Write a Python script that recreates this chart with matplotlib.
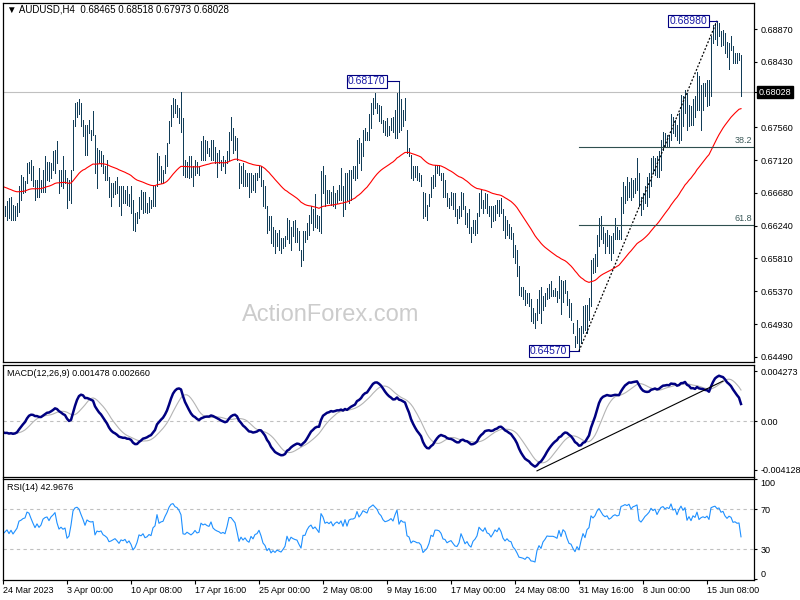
import numpy as np
import pandas as pd
import matplotlib
matplotlib.use("Agg")
import matplotlib.pyplot as plt
import matplotlib.transforms as mtransforms

# AUDUSD H4 bars, prices in pips (x 1e-4)
high_pips = [
    6648, 6650, 6657, 6661, 6663, 6652, 6650, 6655, 6677, 6692,
    6690, 6684, 6708, 6710, 6712, 6704, 6686, 6686, 6701, 6686,
    6699, 6717, 6710, 6710, 6708, 6724, 6726, 6737, 6699, 6699,
    6717, 6699, 6688, 6686, 6699, 6766, 6788, 6790, 6793, 6788,
    6766, 6759, 6759, 6766, 6752, 6777, 6746, 6728, 6726, 6724,
    6719, 6704, 6712, 6690, 6681, 6681, 6684, 6690, 6677, 6677,
    6677, 6672, 6677, 6666, 6677, 6659, 6641, 6643, 6663, 6672,
    6670, 6670, 6655, 6663, 6659, 6677, 6677, 6721, 6717, 6704,
    6699, 6719, 6735, 6764, 6786, 6795, 6793, 6786, 6781, 6803,
    6768, 6712, 6710, 6717, 6717, 6704, 6712, 6710, 6704, 6737,
    6744, 6739, 6737, 6728, 6739, 6739, 6730, 6721, 6726, 6712,
    6717, 6712, 6724, 6750, 6770, 6755, 6744, 6741, 6708, 6704,
    6708, 6699, 6695, 6695, 6695, 6692, 6695, 6695, 6704, 6704,
    6686, 6677, 6650, 6637, 6637, 6623, 6619, 6615, 6619, 6608,
    6608, 6610, 6635, 6632, 6623, 6630, 6632, 6621, 6617, 6592,
    6617, 6617, 6628, 6639, 6650, 6646, 6666, 6639, 6637, 6697,
    6704, 6692, 6672, 6672, 6670, 6677, 6668, 6672, 6679, 6701,
    6677, 6695, 6695, 6699, 6699, 6704, 6704, 6739, 6741, 6735,
    6752, 6755, 6750, 6773, 6788, 6795, 6801, 6788, 6786, 6784,
    6766, 6764, 6768, 6757, 6768, 6770, 6779, 6801, 6817, 6793,
    6779, 6795, 6752, 6728, 6719, 6704, 6704, 6704, 6695, 6692,
    6670, 6668, 6652, 6666, 6690, 6692, 6706, 6706, 6706, 6695,
    6695, 6686, 6668, 6661, 6670, 6668, 6668, 6646, 6650, 6670,
    6668, 6650, 6641, 6646, 6623, 6632, 6632, 6641, 6668, 6672,
    6659, 6668, 6666, 6650, 6650, 6650, 6652, 6659, 6659, 6661,
    6646, 6637, 6632, 6626, 6623, 6614, 6599, 6592, 6570, 6543,
    6543, 6539, 6534, 6534, 6526, 6514, 6508, 6526, 6539, 6543,
    6530, 6534, 6541, 6546, 6550, 6539, 6541, 6537, 6557, 6552,
    6550, 6552, 6537, 6526, 6521, 6494, 6477, 6499, 6488, 6490,
    6517, 6519, 6519, 6528, 6579, 6581, 6586, 6612, 6635, 6637,
    6623, 6614, 6619, 6612, 6610, 6614, 6635, 6623, 6619, 6663,
    6683, 6677, 6690, 6683, 6688, 6686, 6688, 6715, 6695, 6663,
    6668, 6677, 6690, 6695, 6715, 6717, 6715, 6717, 6724, 6739,
    6750, 6748, 6746, 6746, 6773, 6770, 6766, 6759, 6775, 6799,
    6797, 6806, 6801, 6786, 6784, 6793, 6797, 6830, 6824, 6812,
    6815, 6815, 6819, 6819, 6877, 6893, 6895, 6898, 6895, 6884,
    6886, 6881, 6870, 6868, 6877, 6864, 6855, 6855, 6855, 6852,
]
low_pips = [
    6630, 6637, 6632, 6635, 6632, 6632, 6632, 6637, 6643, 6659,
    6668, 6670, 6681, 6695, 6686, 6677, 6659, 6663, 6663, 6670,
    6670, 6670, 6686, 6684, 6688, 6699, 6695, 6708, 6668, 6677,
    6675, 6681, 6648, 6659, 6655, 6699, 6757, 6770, 6773, 6757,
    6744, 6719, 6719, 6748, 6739, 6746, 6695, 6675, 6708, 6704,
    6695, 6686, 6686, 6663, 6650, 6663, 6666, 6668, 6650, 6639,
    6655, 6655, 6652, 6650, 6641, 6619, 6617, 6628, 6635, 6646,
    6641, 6643, 6641, 6643, 6648, 6650, 6650, 6677, 6686, 6681,
    6681, 6695, 6704, 6735, 6757, 6770, 6775, 6770, 6761, 6750,
    6692, 6690, 6690, 6688, 6690, 6677, 6692, 6695, 6692, 6712,
    6712, 6712, 6721, 6717, 6712, 6712, 6708, 6690, 6708, 6699,
    6704, 6695, 6708, 6712, 6739, 6721, 6726, 6712, 6675, 6681,
    6677, 6677, 6677, 6663, 6670, 6672, 6670, 6686, 6690, 6677,
    6650, 6648, 6615, 6619, 6601, 6597, 6588, 6597, 6592, 6588,
    6595, 6597, 6606, 6601, 6592, 6610, 6603, 6603, 6592, 6570,
    6579, 6603, 6606, 6612, 6628, 6619, 6623, 6621, 6617, 6615,
    6668, 6650, 6655, 6655, 6652, 6650, 6648, 6655, 6659, 6659,
    6637, 6646, 6659, 6655, 6659, 6688, 6686, 6688, 6708, 6699,
    6717, 6739, 6739, 6739, 6755, 6773, 6781, 6775, 6764, 6761,
    6750, 6746, 6744, 6746, 6752, 6750, 6741, 6741, 6750, 6752,
    6757, 6766, 6721, 6717, 6688, 6686, 6690, 6686, 6684, 6677,
    6635, 6637, 6632, 6650, 6663, 6675, 6677, 6695, 6692, 6686,
    6663, 6663, 6650, 6648, 6652, 6646, 6637, 6628, 6635, 6637,
    6646, 6626, 6623, 6615, 6603, 6615, 6612, 6615, 6637, 6648,
    6641, 6648, 6641, 6637, 6623, 6630, 6632, 6641, 6637, 6641,
    6619, 6608, 6612, 6608, 6606, 6583, 6574, 6557, 6532, 6530,
    6526, 6519, 6521, 6517, 6497, 6494, 6488, 6499, 6508, 6494,
    6512, 6517, 6526, 6528, 6530, 6530, 6530, 6523, 6528, 6506,
    6523, 6534, 6519, 6503, 6499, 6481, 6463, 6468, 6457, 6468,
    6481, 6485, 6481, 6499, 6517, 6561, 6563, 6570, 6597, 6606,
    6601, 6588, 6597, 6588, 6579, 6588, 6606, 6606, 6606, 6606,
    6641, 6655, 6659, 6663, 6659, 6663, 6668, 6672, 6650, 6639,
    6646, 6655, 6650, 6663, 6677, 6695, 6692, 6690, 6690, 6699,
    6726, 6730, 6730, 6730, 6739, 6748, 6744, 6739, 6735, 6739,
    6757, 6775, 6752, 6757, 6759, 6759, 6770, 6779, 6779, 6752,
    6779, 6797, 6784, 6786, 6797, 6868, 6873, 6866, 6877, 6864,
    6866, 6855, 6850, 6833, 6859, 6841, 6841, 6841, 6846, 6797,
]
close_pips = [
    6640, 6645, 6650, 6640, 6648, 6638, 6645, 6652, 6672, 6675,
    6680, 6682, 6702, 6700, 6690, 6680, 6670, 6680, 6672, 6678,
    6695, 6700, 6702, 6695, 6706, 6712, 6720, 6700, 6685, 6690,
    6685, 6688, 6660, 6665, 6695, 6760, 6780, 6785, 6780, 6765,
    6750, 6730, 6755, 6750, 6748, 6750, 6700, 6715, 6712, 6715,
    6700, 6695, 6688, 6670, 6672, 6675, 6678, 6670, 6660, 6668,
    6665, 6668, 6656, 6660, 6648, 6625, 6630, 6640, 6658, 6655,
    6660, 6648, 6650, 6655, 6652, 6670, 6675, 6712, 6690, 6695,
    6697, 6715, 6732, 6760, 6780, 6785, 6778, 6776, 6770, 6760,
    6700, 6698, 6705, 6700, 6695, 6700, 6708, 6700, 6702, 6730,
    6725, 6728, 6724, 6722, 6735, 6720, 6715, 6712, 6710, 6706,
    6708, 6705, 6720, 6745, 6745, 6740, 6735, 6715, 6685, 6695,
    6685, 6690, 6680, 6675, 6688, 6680, 6690, 6692, 6700, 6685,
    6660, 6650, 6625, 6630, 6605, 6610, 6600, 6605, 6600, 6595,
    6600, 6606, 6628, 6610, 6620, 6615, 6612, 6610, 6595, 6580,
    6610, 6610, 6625, 6635, 6640, 6630, 6635, 6628, 6620, 6690,
    6680, 6660, 6665, 6660, 6668, 6655, 6665, 6670, 6665, 6675,
    6660, 6685, 6665, 6690, 6695, 6695, 6700, 6730, 6715, 6728,
    6748, 6745, 6742, 6770, 6780, 6790, 6785, 6780, 6770, 6765,
    6755, 6750, 6752, 6755, 6760, 6755, 6775, 6795, 6760, 6775,
    6770, 6770, 6725, 6720, 6692, 6698, 6695, 6690, 6690, 6680,
    6640, 6645, 6650, 6662, 6685, 6680, 6700, 6700, 6698, 6690,
    6670, 6668, 6655, 6658, 6660, 6650, 6640, 6638, 6645, 6665,
    6650, 6630, 6635, 6620, 6612, 6625, 6630, 6638, 6662, 6655,
    6650, 6660, 6645, 6642, 6632, 6640, 6650, 6645, 6655, 6645,
    6625, 6615, 6620, 6612, 6610, 6590, 6580, 6562, 6535, 6532,
    6528, 6520, 6524, 6518, 6498, 6496, 6490, 6510, 6520, 6508,
    6522, 6528, 6536, 6535, 6535, 6535, 6533, 6530, 6545, 6530,
    6545, 6540, 6522, 6505, 6502, 6485, 6470, 6480, 6465, 6485,
    6505, 6490, 6515, 6522, 6575, 6568, 6580, 6608, 6625, 6615,
    6605, 6600, 6605, 6595, 6600, 6610, 6615, 6612, 6615, 6660,
    6665, 6672, 6670, 6678, 6668, 6680, 6684, 6690, 6655, 6650,
    6660, 6672, 6680, 6690, 6710, 6705, 6712, 6700, 6718, 6735,
    6740, 6735, 6742, 6740, 6765, 6752, 6758, 6745, 6770, 6790,
    6780, 6795, 6760, 6778, 6765, 6790, 6785, 6815, 6790, 6800,
    6805, 6802, 6810, 6800, 6872, 6880, 6885, 6878, 6882, 6870,
    6875, 6862, 6855, 6865, 6862, 6848, 6850, 6846, 6847, 6803,
]

# starting states of the indicators as seen at the left edge
ma_seed = 0.6678
ema12_seed = 0.6664
ema26_seed = 0.6672
rsi_seed_gain = 0.0005
rsi_seed_loss = 0.0006

last_price = 0.68028
title_text = "\u25bc AUDUSD,H4  0.68465 0.68518 0.67973 0.68028"
macd_text = "MACD(12,26,9) 0.001478 0.002660"
rsi_text = "RSI(14) 42.9676"

price_ticks = [0.68870, 0.68430, 0.67560, 0.67120, 0.66680, 0.66240,
               0.65810, 0.65370, 0.64930, 0.64490]
macd_ticks = [0.004273, 0.0, -0.004128]
macd_tick_labels = ["0.004273", "0.00", "-0.004128"]
rsi_ticks = [100, 70, 30, 0]

date_bars = [0, 32, 64, 96, 128, 160, 192, 224, 256, 288, 320, 352]
date_labels = ["24 Mar 2023", "3 Apr 00:00", "10 Apr 08:00", "17 Apr 16:00",
               "25 Apr 00:00", "2 May 08:00", "9 May 16:00", "17 May 00:00",
               "24 May 08:00", "31 May 16:00", "8 Jun 00:00", "15 Jun 08:00"]

# swing points (bar, price) and labels
swing_low = (288, 0.64570)
swing_high = (357, 0.68980)
mid_peak = (198, 0.68170)
fib_ratios = [0.382, 0.618]
fib_names = ["38.2", "61.8"]
macd_trend_bars = [267, 360]
macd_trend_vals = [-0.00420, 0.00342]

high = np.array(high_pips) / 10000
low = np.array(low_pips) / 10000
close = np.array(close_pips) / 10000
bars = np.arange(len(close))


def ema(values, n, seed):
    a = 2 / (n + 1)
    out = np.empty(len(values))
    v = seed
    for i, p in enumerate(values):
        v += a * (p - v)
        out[i] = v
    return out


ma55 = ema(close, 55, ma_seed)
macd = ema(close, 12, ema12_seed) - ema(close, 26, ema26_seed)
signal = pd.Series(macd).rolling(9, min_periods=1).mean().values

delta = np.diff(close, prepend=close[0])
ag, al = rsi_seed_gain, rsi_seed_loss
rsi = []
for d in delta:
    ag = (ag * 13 + max(d, 0)) / 14
    al = (al * 13 + max(-d, 0)) / 14
    rsi.append(100 - 100 / (1 + ag / al))

plt.rcParams['font.family'] = ['Liberation Sans', 'DejaVu Sans']

W, H = 800, 600


def rect(x0, y0, x1, y1):
    return [x0 / W, 1 - y1 / H, (x1 - x0) / W, (y1 - y0) / H]


fig = plt.figure(figsize=(8, 6), dpi=100)
ax_p = fig.add_axes(rect(2.5, 2.5, 754, 362))
ax_m = fig.add_axes(rect(2.5, 364.5, 754, 476.5))
ax_r = fig.add_axes(rect(2.5, 478.5, 754, 579.5))

for ax in (ax_p, ax_m, ax_r):
    ax.set_xlim(-0.25, 375.5)
    ax.yaxis.tick_right()
    ax.tick_params(axis='y', direction='out', length=2.5, width=0.8, pad=2,
                   labelsize=6.5, colors='black')
    for s in ax.spines.values():
        s.set_linewidth(0.9)
        s.set_color('black')

# price panel
ax_p.set_ylim(0.644232, 0.692239)
ax_p.set_xticks([])
ax_p.set_yticks(price_ticks + [last_price])
ax_p.set_yticklabels(["%.5f" % t for t in price_ticks] + [""])
ax_p.axhline(last_price, color='#c0c0c0', lw=0.8)
ax_p.vlines(bars, low, high, colors='#123d58', linewidth=0.7, antialiased=False)
ax_p.plot(bars, ma55, color='red', lw=0.8)

tr = mtransforms.blended_transform_factory(ax_p.transAxes, ax_p.transData)
ax_p.text(1.006, last_price, "%.5f" % last_price, transform=tr, ha='left', va='center',
          fontsize=6.5, color='white',
          bbox=dict(boxstyle='square,pad=0.2', fc='black', ec='black'))

fig.text(7 / W, 1 - 10 / H, title_text, fontsize=7, va='center', ha='left')
fig.text(331 / W, 1 - 315 / H, "ActionForex.com", fontsize=17, color='#cccccc',
         ha='center', va='center')

# fibonacci from swing low to swing high
lo_bar, lo_p = swing_low
hi_bar, hi_p = swing_high
ax_p.plot([lo_bar, hi_bar], [lo_p, hi_p], color='black', lw=0.9, ls=(0, (1.5, 1.5)))
for r, name in zip(fib_ratios, fib_names):
    lvl = hi_p - r * (hi_p - lo_p)
    ax_p.plot([lo_bar, 375.5], [lvl, lvl], color='#2f4f4f', lw=0.8)
    ax_p.text(374.5, lvl + 0.0003, name, ha='right', va='bottom', fontsize=6.5,
              color='#3c5a5a')

for (b, p), gap in ((mid_peak, 6), (swing_high, 4), (swing_low, 5)):
    ax_p.plot([b - gap, b], [p, p], color='#000080', lw=0.8)
    ax_p.text(b - gap - 0.8, p, "%.5f" % p, ha='right', va='center', fontsize=7.5,
              color='#1a1aa6',
              bbox=dict(boxstyle='square,pad=0.12', fc='white', ec='#000080', lw=0.8))

# MACD panel
ax_m.set_ylim(-0.00468, 0.004825)
ax_m.set_xticks([])
ax_m.set_yticks(macd_ticks)
ax_m.set_yticklabels(macd_tick_labels)
ax_m.axhline(0, color='#c0c0c0', lw=0.8, ls=(0, (3, 3)))
ax_m.plot(bars, signal, color='#b4b4b4', lw=0.8)
ax_m.plot(bars, macd, color='#000080', lw=1.8)
ax_m.plot(macd_trend_bars, macd_trend_vals, color='black', lw=0.8)
fig.text(7 / W, 1 - 374 / H, macd_text, fontsize=6.5, va='center', ha='left')

# RSI panel
ax_r.set_ylim(-0.2, 100.8)
ax_r.set_yticks(rsi_ticks)
ax_r.set_yticklabels([str(t) for t in rsi_ticks])
labs = ax_r.get_yticklabels()
labs[0].set_verticalalignment('top')
labs[-1].set_verticalalignment('bottom')
for lvl in (70, 30):
    ax_r.axhline(lvl, color='#c0c0c0', lw=0.8, ls=(0, (3, 3)))
ax_r.plot(bars, rsi, color='#1e90ff', lw=0.8)
fig.text(7 / W, 1 - 487 / H, rsi_text, fontsize=6.5, va='center', ha='left')

ax_r.set_xticks(date_bars)
ax_r.set_xticklabels(date_labels)
ax_r.tick_params(axis='x', direction='out', length=3, width=0.8, pad=1.5,
                 labelsize=6.5)
for t in ax_r.get_xticklabels():
    t.set_horizontalalignment('left')

fig.savefig("out.png", dpi=100)
